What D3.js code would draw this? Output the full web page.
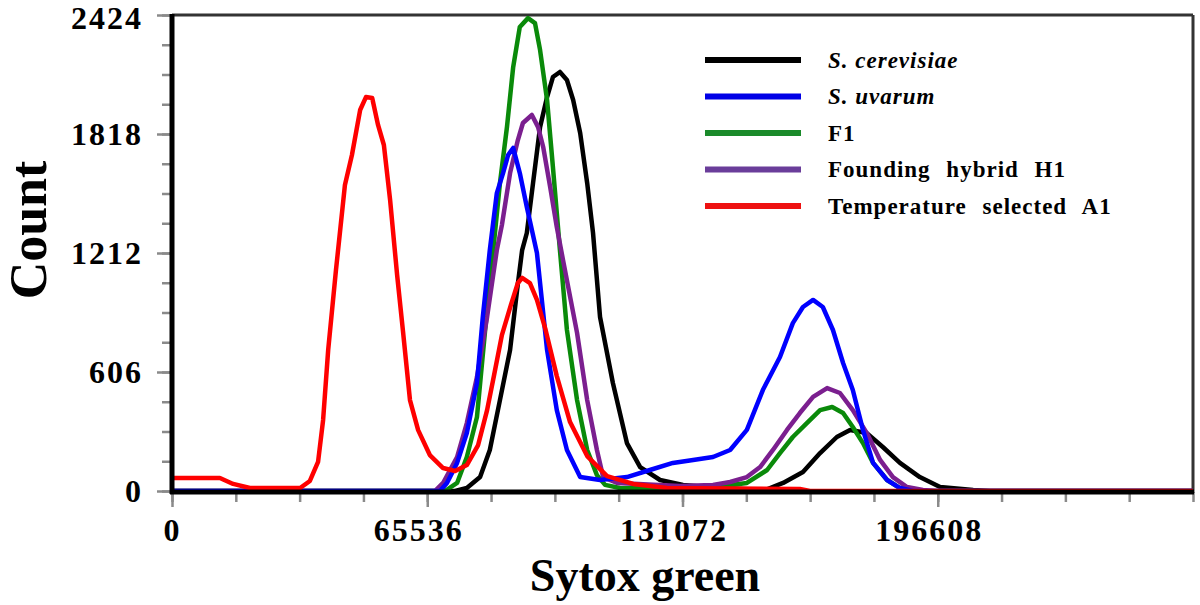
<!doctype html>
<html>
<head>
<meta charset="utf-8"/>
<title>Sytox green</title>
<script src="https://d3js.org/d3.v7.min.js"></script>
<style>
 body { margin:0; background:#fff; }
 text { font-family:"Liberation Serif","Times New Roman",serif; font-weight:bold; }
</style>
</head>
<body>
<script>
// --- data (x = Sytox green channel, y = count) ---
var seriesNames = ["S. cerevisiae", "S. uvarum", "F1", "Founding hybrid H1", "Temperature selected A1"];
var seriesColors = ["#000000", "#0000ff", "#0a8a0a", "#7b1f8f", "#ff0000"];
var legendColors = ["#000000", "#0000e6", "#1a8a2a", "#6a3d9a", "#ee1111"];
var italicNames = [true, true, false, false, false];

var xMajorTicks = [0, 65536, 131072, 196608];
var yMajorTicks = [0, 606, 1212, 1818, 2424];

var cerevisiae = [[0,0],[72700,0],[75700,15],[79100,71],[81600,209],[84200,463],[86800,718],[88600,1023],[89900,1227],
  [91100,1314],[92700,1568],[94500,1853],[96300,2006],[97800,2108],[99600,2134],[101400,2093],[103000,1991],[104800,1823],
  [106600,1568],[108100,1314],[109900,886],[113200,550],[116800,244],[120200,122],[125300,56],[131200,31],[140700,15],
  [152300,5],[156900,41],[162000,97],[166400,193],[170700,275],[174100,311],[178400,295],[182500,224],[186900,143],
  [192000,71],[197200,20],[205700,5],[210000,0],[262144,0]];

var uvarum = [[0,0],[68800,0],[70600,41],[73200,143],[75700,295],[78300,550],[79800,886],[81600,1227],[83400,1517],
  [85000,1619],[86300,1711],[87600,1747],[89300,1619],[91100,1446],[93700,1212],[96300,718],[98800,412],[101400,209],
  [104800,71],[109900,56],[116800,71],[122700,107],[128600,143],[133800,158],[138900,173],[143300,209],[147600,311],
  [151700,514],[156100,682],[159400,855],[162000,937],[164600,973],[167100,937],[169700,820],[172300,652],[174800,514],
  [177400,311],[180000,143],[183600,56],[186900,15],[190300,0],[262144,0]];

var f1 = [[0,0],[70100,0],[73200,41],[75700,173],[78300,377],[80400,820],[82400,1212],[84200,1568],[86000,1853],
  [87600,2159],[89300,2363],[91400,2408],[93200,2383],[94500,2246],[96300,1991],[97800,1650],[99600,1227],[101400,820],
  [104000,463],[106600,209],[109100,81],[111200,31],[115000,15],[135600,10],[147600,41],[152800,107],[156100,193],
  [159400,275],[163000,346],[166400,412],[169500,428],[172300,397],[174800,326],[177400,244],[180000,143],[183600,56],
  [186900,15],[190800,0],[262144,0]];

var hybridH1 = [[0,0],[67500,0],[69600,41],[73200,173],[75700,346],[78300,580],[80900,886],[83400,1227],[84700,1354],
  [86800,1619],[88800,1787],[90100,1874],[92400,1915],[94000,1853],[95300,1752],[97100,1548],[98800,1344],[100400,1176],
  [104000,805],[106600,463],[109100,209],[110700,71],[114300,41],[130400,25],[138900,31],[143300,46],[147600,71],
  [151000,122],[154300,209],[157900,311],[161200,397],[164600,479],[168200,524],[171500,499],[174800,412],[178400,295],
  [181800,158],[185100,71],[188700,20],[192800,5],[195900,0],[262144,0]];

var selectedA1 = [[0,66],[12300,66],[15700,36],[20000,15],[32900,15],[35400,51],[37500,148],[38800,362],[40100,718],
  [42100,1125],[44400,1558],[46200,1711],[48300,1940],[49800,2006],[51400,2001],[52900,1864],[54400,1762],[56000,1482],
  [57800,1100],[59300,815],[61100,463],[63200,310],[66200,183],[69600,117],[72700,102],[75700,132],[78600,234],
  [80900,412],[82700,591],[84700,794],[87000,947],[88800,1059],[89900,1085],[91900,1059],[93700,973],[95800,830],
  [98800,585],[102200,351],[106600,178],[111700,76],[118400,36],[127100,15],[161200,10],[163800,0],[262144,0]];

var seriesData = [cerevisiae, uvarum, f1, hybridH1, selectedA1];
// drawing order bottom -> top
var drawOrder = [0, 2, 3, 1, 4];

Draw();

function Draw()
{
  var W = 1200, H = 605;
  var pl = 172, pr = 1193, pt = 15, pb = 491;

  var svg = d3.select("body").append("svg")
    .attr("width", W).attr("height", H);

  var x = d3.scaleLinear().domain([0, 262144]).range([pl, pr]);
  var y = d3.scaleLinear().domain([0, 2424]).range([pb, pt]);

  // minor ticks
  var gYm = svg.append("g").attr("transform", "translate(" + pl + ",0)")
    .call(d3.axisLeft(y).tickValues(d3.range(0, 2424.1, 151.5)).tickSize(10).tickFormat(""));
  var gXm = svg.append("g").attr("transform", "translate(0," + (pb + 1) + ")")
    .call(d3.axisBottom(x).tickValues(d3.range(0, 262145, 16384)).tickSize(10).tickFormat(""));

  // major ticks with labels
  var gY = svg.append("g").attr("transform", "translate(" + pl + ",0)")
    .call(d3.axisLeft(y).tickValues(yMajorTicks).tickSize(15).tickPadding(14).tickFormat(d3.format("d")));
  var gX = svg.append("g").attr("transform", "translate(0," + (pb + 1) + ")")
    .call(d3.axisBottom(x).tickValues(xMajorTicks).tickSize(15).tickPadding(11).tickFormat(d3.format("d")));

  [gYm, gXm, gY, gX].forEach(function(g) {
    g.select(".domain").remove();
    g.selectAll(".tick line").attr("stroke", "#8a8a8a").attr("stroke-width", 2.5);
    g.selectAll(".tick text")
      .attr("font-family", "Liberation Serif")
      .attr("font-weight", "bold")
      .attr("font-size", 32)
      .attr("letter-spacing", 2)
      .attr("fill", "#000");
  });
  gX.selectAll(".tick text").attr("dx", function(d) { return d === 0 ? 0 : -9; });
  gY.selectAll(".tick text").attr("dy", function(d) { return d === 2424 ? "0.42em" : "0.32em"; });

  // frame
  svg.append("line").attr("x1", pl).attr("x2", pr).attr("y1", pt).attr("y2", pt)
    .attr("stroke", "#333").attr("stroke-width", 3);
  svg.append("line").attr("x1", pr).attr("x2", pr).attr("y1", pt).attr("y2", pb + 2)
    .attr("stroke", "#333").attr("stroke-width", 3);

  // curves
  var line = d3.line().x(function(d) { return x(d[0]); }).y(function(d) { return y(d[1]); });
  drawOrder.forEach(function(i) {
    svg.append("path")
      .datum(seriesData[i])
      .attr("d", line)
      .attr("fill", "none")
      .attr("stroke", seriesColors[i])
      .attr("stroke-width", 4.5)
      .attr("stroke-linejoin", "round");
  });

  // thick axes on top
  svg.append("line").attr("x1", pl).attr("x2", pl).attr("y1", pt - 1).attr("y2", pb + 3)
    .attr("stroke", "#000").attr("stroke-width", 5);
  svg.append("line").attr("x1", pl - 2).attr("x2", pr + 1).attr("y1", pb + 1).attr("y2", pb + 1)
    .attr("stroke", "#000").attr("stroke-width", 5);

  // axis titles
  svg.append("text")
    .attr("transform", "translate(46,230) rotate(-90)")
    .attr("text-anchor", "middle")
    .attr("font-size", 52)
    .text("Count");
  svg.append("text")
    .attr("x", 645).attr("y", 591)
    .attr("text-anchor", "middle")
    .attr("font-size", 46)
    .text("Sytox green");

  // legend
  var legend = svg.append("g");
  seriesNames.forEach(function(name, i) {
    var ly = 60 + i * 36.5;
    legend.append("line")
      .attr("x1", 705).attr("x2", 801).attr("y1", ly).attr("y2", ly)
      .attr("stroke", legendColors[i]).attr("stroke-width", 6);
    legend.append("text")
      .attr("x", 828).attr("y", ly).attr("dy", "0.33em")
      .attr("font-size", 23)
      .attr("letter-spacing", 1)
      .attr("word-spacing", italicNames[i] ? 0 : 9)
      .attr("font-style", italicNames[i] ? "italic" : "normal")
      .text(name);
  });
}
</script>
</body>
</html>
